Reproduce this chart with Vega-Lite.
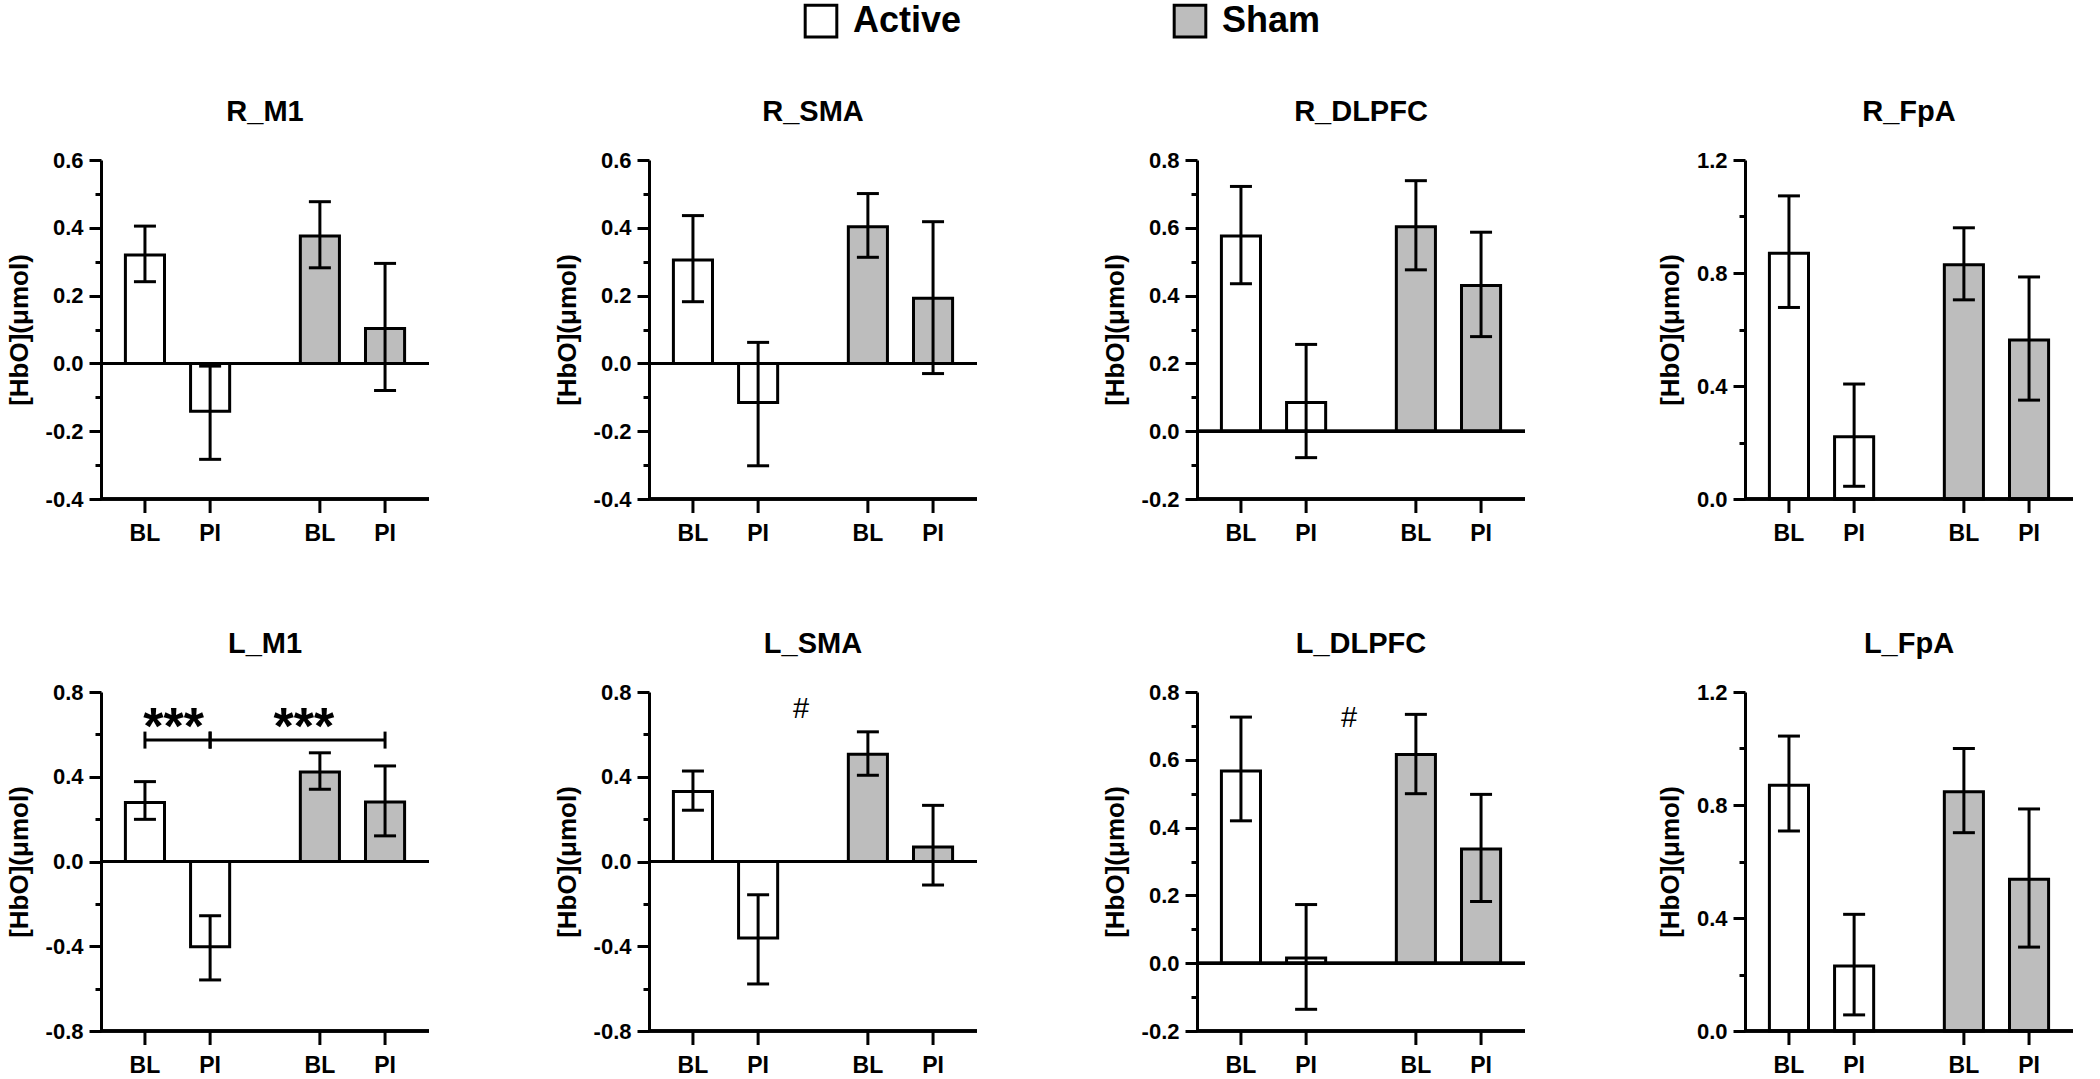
{
  "$schema": "https://vega.github.io/schema/vega-lite/v6.json",
  "padding": {"left": 6, "top": 3, "right": 5, "bottom": 0},
  "datasets": {
    "bars": [
      {"region":"R_M1","group":"Active","time":"BL","mean":0.32,"lo":0.241,"hi":0.405},
      {"region":"R_M1","group":"Active","time":"PI","mean":-0.141,"lo":-0.283,"hi":-0.008},
      {"region":"R_M1","group":"Sham","time":"BL","mean":0.376,"lo":0.282,"hi":0.477},
      {"region":"R_M1","group":"Sham","time":"PI","mean":0.103,"lo":-0.08,"hi":0.295},
      {"region":"R_SMA","group":"Active","time":"BL","mean":0.305,"lo":0.182,"hi":0.436},
      {"region":"R_SMA","group":"Active","time":"PI","mean":-0.115,"lo":-0.302,"hi":0.062},
      {"region":"R_SMA","group":"Sham","time":"BL","mean":0.403,"lo":0.313,"hi":0.501},
      {"region":"R_SMA","group":"Sham","time":"PI","mean":0.192,"lo":-0.03,"hi":0.418},
      {"region":"R_DLPFC","group":"Active","time":"BL","mean":0.576,"lo":0.435,"hi":0.722},
      {"region":"R_DLPFC","group":"Active","time":"PI","mean":0.085,"lo":-0.078,"hi":0.256},
      {"region":"R_DLPFC","group":"Sham","time":"BL","mean":0.603,"lo":0.476,"hi":0.739},
      {"region":"R_DLPFC","group":"Sham","time":"PI","mean":0.43,"lo":0.279,"hi":0.587},
      {"region":"R_FpA","group":"Active","time":"BL","mean":0.87,"lo":0.678,"hi":1.073},
      {"region":"R_FpA","group":"Active","time":"PI","mean":0.22,"lo":0.045,"hi":0.407},
      {"region":"R_FpA","group":"Sham","time":"BL","mean":0.829,"lo":0.705,"hi":0.96},
      {"region":"R_FpA","group":"Sham","time":"PI","mean":0.563,"lo":0.35,"hi":0.786},
      {"region":"L_M1","group":"Active","time":"BL","mean":0.278,"lo":0.199,"hi":0.377},
      {"region":"L_M1","group":"Active","time":"PI","mean":-0.402,"lo":-0.559,"hi":-0.256},
      {"region":"L_M1","group":"Sham","time":"BL","mean":0.422,"lo":0.341,"hi":0.513},
      {"region":"L_M1","group":"Sham","time":"PI","mean":0.281,"lo":0.121,"hi":0.451},
      {"region":"L_SMA","group":"Active","time":"BL","mean":0.33,"lo":0.242,"hi":0.427},
      {"region":"L_SMA","group":"Active","time":"PI","mean":-0.361,"lo":-0.578,"hi":-0.157},
      {"region":"L_SMA","group":"Sham","time":"BL","mean":0.506,"lo":0.407,"hi":0.612},
      {"region":"L_SMA","group":"Sham","time":"PI","mean":0.069,"lo":-0.111,"hi":0.265},
      {"region":"L_DLPFC","group":"Active","time":"BL","mean":0.567,"lo":0.42,"hi":0.726},
      {"region":"L_DLPFC","group":"Active","time":"PI","mean":0.015,"lo":-0.136,"hi":0.173},
      {"region":"L_DLPFC","group":"Sham","time":"BL","mean":0.616,"lo":0.5,"hi":0.734},
      {"region":"L_DLPFC","group":"Sham","time":"PI","mean":0.337,"lo":0.182,"hi":0.498},
      {"region":"L_FpA","group":"Active","time":"BL","mean":0.87,"lo":0.708,"hi":1.044},
      {"region":"L_FpA","group":"Active","time":"PI","mean":0.23,"lo":0.057,"hi":0.413},
      {"region":"L_FpA","group":"Sham","time":"BL","mean":0.847,"lo":0.702,"hi":1.0},
      {"region":"L_FpA","group":"Sham","time":"PI","mean":0.537,"lo":0.297,"hi":0.786}
    ],
    "ann": [
      {"region":"L_M1","kind":"bracket","id":1,"group":"Active","time":"BL","y":0.573},
      {"region":"L_M1","kind":"bracket","id":1,"group":"Active","time":"PI","y":0.573},
      {"region":"L_M1","kind":"bracket","id":2,"group":"Active","time":"PI","y":0.573},
      {"region":"L_M1","kind":"bracket","id":2,"group":"Sham","time":"PI","y":0.573},
      {"region":"L_M1","kind":"star1","group":"Active","y":0.686,"label":"***"},
      {"region":"L_M1","kind":"star2","group":"Sham","time":"BL","y":0.686,"label":"***"},
      {"region":"L_SMA","kind":"hash","group":"Active","time":"PI","y":0.718,"label":"#"},
      {"region":"L_DLPFC","kind":"hash","group":"Active","time":"PI","y":0.724,"label":"#"}
    ]
  },
  "columns": 4,
  "spacing": {"row": 193, "column": 220},
  "bounds": "flush",
  "concat": [
    {
      "title": "R_M1", "width": 328, "height": 339,
      "data": {"name": "bars"},
      "transform": [{"filter": "datum.region === 'R_M1'"}],
      "resolve": {"axis": {"y": "independent"}},
      "layer": [
        {"mark": {"type": "bar", "stroke": "black", "strokeWidth": 3},
         "encoding": {
           "x": {"field": "group", "type": "nominal", "scale": {"domain": ["Active","Sham"], "paddingInner": 0.255, "paddingOuter": 0.065}, "axis": null},
           "xOffset": {"field": "time", "type": "nominal", "scale": {"domain": ["BL","PI"], "paddingInner": 0.4, "paddingOuter": 0.2}},
           "y": {"field": "mean", "type": "quantitative", "scale": {"domain": [-0.4, 0.6], "nice": false, "zero": false}, "axis": {"title": "[HbO](μmol)", "values": [-0.4,-0.2,0,0.2,0.4,0.6], "labelExpr": "replace(format(datum.value, '.1f'), '−', '-')"}},
           "fill": {"field": "group", "type": "nominal", "scale": {"domain": ["Active","Sham"], "range": ["#ffffff","#bdbdbd"]}, "legend": {"orient": "none", "legendX": 702, "legendY": -157, "direction": "horizontal", "title": null}}
         }},
        {"mark": {"type": "rule", "color": "black", "strokeWidth": 3},
         "encoding": {"x": {"field": "group", "type": "nominal", "axis": null}, "xOffset": {"field": "time", "type": "nominal"},
           "y": {"field": "lo", "type": "quantitative", "axis": {"orient": "left", "title": null, "labels": false, "domain": false, "tickSize": 6, "values": [-0.3,-0.1,0.1,0.3,0.5]}}, "y2": {"field": "hi"}}},
        {"mark": {"type": "tick", "orient": "horizontal", "color": "black", "size": 22, "thickness": 3, "opacity": 1},
         "encoding": {"x": {"field": "group", "type": "nominal", "axis": null}, "xOffset": {"field": "time", "type": "nominal"}, "y": {"field": "lo", "type": "quantitative", "axis": null}}},
        {"mark": {"type": "tick", "orient": "horizontal", "color": "black", "size": 22, "thickness": 3, "opacity": 1},
         "encoding": {"x": {"field": "group", "type": "nominal", "axis": null}, "xOffset": {"field": "time", "type": "nominal"}, "y": {"field": "hi", "type": "quantitative", "axis": null}}},
        {"mark": {"type": "rule", "color": "black", "strokeWidth": 3},
         "encoding": {"y": {"datum": 0, "type": "quantitative", "axis": null}}},
        {"mark": {"type": "rule", "color": "black", "strokeWidth": 3},
         "encoding": {"y": {"datum": -0.4, "type": "quantitative", "axis": null}}},
        {"mark": {"type": "tick", "orient": "vertical", "color": "black", "size": 14, "thickness": 3, "opacity": 1, "yOffset": 7},
         "encoding": {"x": {"field": "group", "type": "nominal", "axis": null}, "xOffset": {"field": "time", "type": "nominal"}, "y": {"datum": -0.4, "type": "quantitative", "axis": null}}},
        {"mark": {"type": "text", "font": "Liberation Sans", "fontWeight": "bold", "fontSize": 23, "color": "black", "baseline": "alphabetic", "dy": 42},
         "encoding": {"x": {"field": "group", "type": "nominal", "axis": null}, "xOffset": {"field": "time", "type": "nominal"}, "y": {"datum": -0.4, "type": "quantitative", "axis": null}, "text": {"field": "time"}}}
      ]
    },
    {
      "title": "R_SMA", "width": 328, "height": 339,
      "data": {"name": "bars"},
      "transform": [{"filter": "datum.region === 'R_SMA'"}],
      "resolve": {"axis": {"y": "independent"}},
      "layer": [
        {"mark": {"type": "bar", "stroke": "black", "strokeWidth": 3},
         "encoding": {
           "x": {"field": "group", "type": "nominal", "scale": {"domain": ["Active","Sham"], "paddingInner": 0.255, "paddingOuter": 0.065}, "axis": null},
           "xOffset": {"field": "time", "type": "nominal", "scale": {"domain": ["BL","PI"], "paddingInner": 0.4, "paddingOuter": 0.2}},
           "y": {"field": "mean", "type": "quantitative", "scale": {"domain": [-0.4, 0.6], "nice": false, "zero": false}, "axis": {"title": "[HbO](μmol)", "values": [-0.4,-0.2,0,0.2,0.4,0.6], "labelExpr": "replace(format(datum.value, '.1f'), '−', '-')"}},
           "fill": {"field": "group", "type": "nominal", "scale": {"domain": ["Active","Sham"], "range": ["#ffffff","#bdbdbd"]}, "legend": {"orient": "none", "legendX": 702, "legendY": -157, "direction": "horizontal", "title": null}}
         }},
        {"mark": {"type": "rule", "color": "black", "strokeWidth": 3},
         "encoding": {"x": {"field": "group", "type": "nominal", "axis": null}, "xOffset": {"field": "time", "type": "nominal"},
           "y": {"field": "lo", "type": "quantitative", "axis": {"orient": "left", "title": null, "labels": false, "domain": false, "tickSize": 6, "values": [-0.3,-0.1,0.1,0.3,0.5]}}, "y2": {"field": "hi"}}},
        {"mark": {"type": "tick", "orient": "horizontal", "color": "black", "size": 22, "thickness": 3, "opacity": 1},
         "encoding": {"x": {"field": "group", "type": "nominal", "axis": null}, "xOffset": {"field": "time", "type": "nominal"}, "y": {"field": "lo", "type": "quantitative", "axis": null}}},
        {"mark": {"type": "tick", "orient": "horizontal", "color": "black", "size": 22, "thickness": 3, "opacity": 1},
         "encoding": {"x": {"field": "group", "type": "nominal", "axis": null}, "xOffset": {"field": "time", "type": "nominal"}, "y": {"field": "hi", "type": "quantitative", "axis": null}}},
        {"mark": {"type": "rule", "color": "black", "strokeWidth": 3},
         "encoding": {"y": {"datum": 0, "type": "quantitative", "axis": null}}},
        {"mark": {"type": "rule", "color": "black", "strokeWidth": 3},
         "encoding": {"y": {"datum": -0.4, "type": "quantitative", "axis": null}}},
        {"mark": {"type": "tick", "orient": "vertical", "color": "black", "size": 14, "thickness": 3, "opacity": 1, "yOffset": 7},
         "encoding": {"x": {"field": "group", "type": "nominal", "axis": null}, "xOffset": {"field": "time", "type": "nominal"}, "y": {"datum": -0.4, "type": "quantitative", "axis": null}}},
        {"mark": {"type": "text", "font": "Liberation Sans", "fontWeight": "bold", "fontSize": 23, "color": "black", "baseline": "alphabetic", "dy": 42},
         "encoding": {"x": {"field": "group", "type": "nominal", "axis": null}, "xOffset": {"field": "time", "type": "nominal"}, "y": {"datum": -0.4, "type": "quantitative", "axis": null}, "text": {"field": "time"}}}
      ]
    },
    {
      "title": "R_DLPFC", "width": 328, "height": 339,
      "data": {"name": "bars"},
      "transform": [{"filter": "datum.region === 'R_DLPFC'"}],
      "resolve": {"axis": {"y": "independent"}},
      "layer": [
        {"mark": {"type": "bar", "stroke": "black", "strokeWidth": 3},
         "encoding": {
           "x": {"field": "group", "type": "nominal", "scale": {"domain": ["Active","Sham"], "paddingInner": 0.255, "paddingOuter": 0.065}, "axis": null},
           "xOffset": {"field": "time", "type": "nominal", "scale": {"domain": ["BL","PI"], "paddingInner": 0.4, "paddingOuter": 0.2}},
           "y": {"field": "mean", "type": "quantitative", "scale": {"domain": [-0.2, 0.8], "nice": false, "zero": false}, "axis": {"title": "[HbO](μmol)", "values": [-0.2,0,0.2,0.4,0.6,0.8], "labelExpr": "replace(format(datum.value, '.1f'), '−', '-')"}},
           "fill": {"field": "group", "type": "nominal", "scale": {"domain": ["Active","Sham"], "range": ["#ffffff","#bdbdbd"]}, "legend": {"orient": "none", "legendX": 702, "legendY": -157, "direction": "horizontal", "title": null}}
         }},
        {"mark": {"type": "rule", "color": "black", "strokeWidth": 3},
         "encoding": {"x": {"field": "group", "type": "nominal", "axis": null}, "xOffset": {"field": "time", "type": "nominal"},
           "y": {"field": "lo", "type": "quantitative", "axis": {"orient": "left", "title": null, "labels": false, "domain": false, "tickSize": 6, "values": [-0.1,0.1,0.3,0.5,0.7]}}, "y2": {"field": "hi"}}},
        {"mark": {"type": "tick", "orient": "horizontal", "color": "black", "size": 22, "thickness": 3, "opacity": 1},
         "encoding": {"x": {"field": "group", "type": "nominal", "axis": null}, "xOffset": {"field": "time", "type": "nominal"}, "y": {"field": "lo", "type": "quantitative", "axis": null}}},
        {"mark": {"type": "tick", "orient": "horizontal", "color": "black", "size": 22, "thickness": 3, "opacity": 1},
         "encoding": {"x": {"field": "group", "type": "nominal", "axis": null}, "xOffset": {"field": "time", "type": "nominal"}, "y": {"field": "hi", "type": "quantitative", "axis": null}}},
        {"mark": {"type": "rule", "color": "black", "strokeWidth": 3},
         "encoding": {"y": {"datum": 0, "type": "quantitative", "axis": null}}},
        {"mark": {"type": "rule", "color": "black", "strokeWidth": 3},
         "encoding": {"y": {"datum": -0.2, "type": "quantitative", "axis": null}}},
        {"mark": {"type": "tick", "orient": "vertical", "color": "black", "size": 14, "thickness": 3, "opacity": 1, "yOffset": 7},
         "encoding": {"x": {"field": "group", "type": "nominal", "axis": null}, "xOffset": {"field": "time", "type": "nominal"}, "y": {"datum": -0.2, "type": "quantitative", "axis": null}}},
        {"mark": {"type": "text", "font": "Liberation Sans", "fontWeight": "bold", "fontSize": 23, "color": "black", "baseline": "alphabetic", "dy": 42},
         "encoding": {"x": {"field": "group", "type": "nominal", "axis": null}, "xOffset": {"field": "time", "type": "nominal"}, "y": {"datum": -0.2, "type": "quantitative", "axis": null}, "text": {"field": "time"}}}
      ]
    },
    {
      "title": "R_FpA", "width": 328, "height": 339,
      "data": {"name": "bars"},
      "transform": [{"filter": "datum.region === 'R_FpA'"}],
      "resolve": {"axis": {"y": "independent"}},
      "layer": [
        {"mark": {"type": "bar", "stroke": "black", "strokeWidth": 3},
         "encoding": {
           "x": {"field": "group", "type": "nominal", "scale": {"domain": ["Active","Sham"], "paddingInner": 0.255, "paddingOuter": 0.065}, "axis": null},
           "xOffset": {"field": "time", "type": "nominal", "scale": {"domain": ["BL","PI"], "paddingInner": 0.4, "paddingOuter": 0.2}},
           "y": {"field": "mean", "type": "quantitative", "scale": {"domain": [0, 1.2], "nice": false, "zero": false}, "axis": {"title": "[HbO](μmol)", "values": [0,0.4,0.8,1.2], "labelExpr": "replace(format(datum.value, '.1f'), '−', '-')"}},
           "fill": {"field": "group", "type": "nominal", "scale": {"domain": ["Active","Sham"], "range": ["#ffffff","#bdbdbd"]}, "legend": {"orient": "none", "legendX": 702, "legendY": -157, "direction": "horizontal", "title": null}}
         }},
        {"mark": {"type": "rule", "color": "black", "strokeWidth": 3},
         "encoding": {"x": {"field": "group", "type": "nominal", "axis": null}, "xOffset": {"field": "time", "type": "nominal"},
           "y": {"field": "lo", "type": "quantitative", "axis": {"orient": "left", "title": null, "labels": false, "domain": false, "tickSize": 6, "values": [0.2,0.6,1.0]}}, "y2": {"field": "hi"}}},
        {"mark": {"type": "tick", "orient": "horizontal", "color": "black", "size": 22, "thickness": 3, "opacity": 1},
         "encoding": {"x": {"field": "group", "type": "nominal", "axis": null}, "xOffset": {"field": "time", "type": "nominal"}, "y": {"field": "lo", "type": "quantitative", "axis": null}}},
        {"mark": {"type": "tick", "orient": "horizontal", "color": "black", "size": 22, "thickness": 3, "opacity": 1},
         "encoding": {"x": {"field": "group", "type": "nominal", "axis": null}, "xOffset": {"field": "time", "type": "nominal"}, "y": {"field": "hi", "type": "quantitative", "axis": null}}},
        {"mark": {"type": "rule", "color": "black", "strokeWidth": 3},
         "encoding": {"y": {"datum": 0, "type": "quantitative", "axis": null}}},
        {"mark": {"type": "tick", "orient": "vertical", "color": "black", "size": 14, "thickness": 3, "opacity": 1, "yOffset": 7},
         "encoding": {"x": {"field": "group", "type": "nominal", "axis": null}, "xOffset": {"field": "time", "type": "nominal"}, "y": {"datum": 0, "type": "quantitative", "axis": null}}},
        {"mark": {"type": "text", "font": "Liberation Sans", "fontWeight": "bold", "fontSize": 23, "color": "black", "baseline": "alphabetic", "dy": 42},
         "encoding": {"x": {"field": "group", "type": "nominal", "axis": null}, "xOffset": {"field": "time", "type": "nominal"}, "y": {"datum": 0, "type": "quantitative", "axis": null}, "text": {"field": "time"}}}
      ]
    },
    {
      "title": "L_M1", "width": 328, "height": 339,
      "data": {"name": "bars"},
      "transform": [{"filter": "datum.region === 'L_M1'"}],
      "resolve": {"axis": {"y": "independent"}},
      "layer": [
        {"mark": {"type": "bar", "stroke": "black", "strokeWidth": 3},
         "encoding": {
           "x": {"field": "group", "type": "nominal", "scale": {"domain": ["Active","Sham"], "paddingInner": 0.255, "paddingOuter": 0.065}, "axis": null},
           "xOffset": {"field": "time", "type": "nominal", "scale": {"domain": ["BL","PI"], "paddingInner": 0.4, "paddingOuter": 0.2}},
           "y": {"field": "mean", "type": "quantitative", "scale": {"domain": [-0.8, 0.8], "nice": false, "zero": false}, "axis": {"title": "[HbO](μmol)", "values": [-0.8,-0.4,0,0.4,0.8], "labelExpr": "replace(format(datum.value, '.1f'), '−', '-')"}},
           "fill": {"field": "group", "type": "nominal", "scale": {"domain": ["Active","Sham"], "range": ["#ffffff","#bdbdbd"]}, "legend": {"orient": "none", "legendX": 702, "legendY": -157, "direction": "horizontal", "title": null}}
         }},
        {"mark": {"type": "rule", "color": "black", "strokeWidth": 3},
         "encoding": {"x": {"field": "group", "type": "nominal", "axis": null}, "xOffset": {"field": "time", "type": "nominal"},
           "y": {"field": "lo", "type": "quantitative", "axis": {"orient": "left", "title": null, "labels": false, "domain": false, "tickSize": 6, "values": [-0.6,-0.2,0.2,0.6]}}, "y2": {"field": "hi"}}},
        {"mark": {"type": "tick", "orient": "horizontal", "color": "black", "size": 22, "thickness": 3, "opacity": 1},
         "encoding": {"x": {"field": "group", "type": "nominal", "axis": null}, "xOffset": {"field": "time", "type": "nominal"}, "y": {"field": "lo", "type": "quantitative", "axis": null}}},
        {"mark": {"type": "tick", "orient": "horizontal", "color": "black", "size": 22, "thickness": 3, "opacity": 1},
         "encoding": {"x": {"field": "group", "type": "nominal", "axis": null}, "xOffset": {"field": "time", "type": "nominal"}, "y": {"field": "hi", "type": "quantitative", "axis": null}}},
        {"mark": {"type": "rule", "color": "black", "strokeWidth": 3},
         "encoding": {"y": {"datum": 0, "type": "quantitative", "axis": null}}},
        {"mark": {"type": "rule", "color": "black", "strokeWidth": 3},
         "encoding": {"y": {"datum": -0.8, "type": "quantitative", "axis": null}}},
        {"mark": {"type": "tick", "orient": "vertical", "color": "black", "size": 14, "thickness": 3, "opacity": 1, "yOffset": 7},
         "encoding": {"x": {"field": "group", "type": "nominal", "axis": null}, "xOffset": {"field": "time", "type": "nominal"}, "y": {"datum": -0.8, "type": "quantitative", "axis": null}}},
        {"mark": {"type": "text", "font": "Liberation Sans", "fontWeight": "bold", "fontSize": 23, "color": "black", "baseline": "alphabetic", "dy": 42},
         "encoding": {"x": {"field": "group", "type": "nominal", "axis": null}, "xOffset": {"field": "time", "type": "nominal"}, "y": {"datum": -0.8, "type": "quantitative", "axis": null}, "text": {"field": "time"}}},
        {"data": {"name": "ann"}, "transform": [{"filter": "datum.region === 'L_M1' && datum.kind === 'bracket'"}],
         "mark": {"type": "line", "color": "black", "strokeWidth": 3},
         "encoding": {"x": {"field": "group", "type": "nominal", "axis": null}, "xOffset": {"field": "time", "type": "nominal"}, "y": {"field": "y", "type": "quantitative", "axis": null}, "detail": {"field": "id"}}},
        {"data": {"name": "ann"}, "transform": [{"filter": "datum.region === 'L_M1' && datum.kind === 'bracket'"}],
         "mark": {"type": "tick", "orient": "vertical", "color": "black", "size": 17, "thickness": 3, "opacity": 1},
         "encoding": {"x": {"field": "group", "type": "nominal", "axis": null}, "xOffset": {"field": "time", "type": "nominal"}, "y": {"field": "y", "type": "quantitative", "axis": null}}},
        {"data": {"name": "ann"}, "transform": [{"filter": "datum.region === 'L_M1' && datum.kind === 'star1'"}],
         "mark": {"type": "text", "font": "Liberation Sans", "fontWeight": "bold", "fontSize": 52, "color": "black", "baseline": "middle", "dy": 12, "dx": -4},
         "encoding": {"x": {"field": "group", "type": "nominal", "axis": null}, "y": {"field": "y", "type": "quantitative", "axis": null}, "text": {"field": "label"}}},
        {"data": {"name": "ann"}, "transform": [{"filter": "datum.region === 'L_M1' && datum.kind === 'star2'"}],
         "mark": {"type": "text", "font": "Liberation Sans", "fontWeight": "bold", "fontSize": 52, "color": "black", "baseline": "middle", "dy": 12, "dx": -16},
         "encoding": {"x": {"field": "group", "type": "nominal", "axis": null}, "xOffset": {"field": "time", "type": "nominal"}, "y": {"field": "y", "type": "quantitative", "axis": null}, "text": {"field": "label"}}}
      ]
    },
    {
      "title": "L_SMA", "width": 328, "height": 339,
      "data": {"name": "bars"},
      "transform": [{"filter": "datum.region === 'L_SMA'"}],
      "resolve": {"axis": {"y": "independent"}},
      "layer": [
        {"mark": {"type": "bar", "stroke": "black", "strokeWidth": 3},
         "encoding": {
           "x": {"field": "group", "type": "nominal", "scale": {"domain": ["Active","Sham"], "paddingInner": 0.255, "paddingOuter": 0.065}, "axis": null},
           "xOffset": {"field": "time", "type": "nominal", "scale": {"domain": ["BL","PI"], "paddingInner": 0.4, "paddingOuter": 0.2}},
           "y": {"field": "mean", "type": "quantitative", "scale": {"domain": [-0.8, 0.8], "nice": false, "zero": false}, "axis": {"title": "[HbO](μmol)", "values": [-0.8,-0.4,0,0.4,0.8], "labelExpr": "replace(format(datum.value, '.1f'), '−', '-')"}},
           "fill": {"field": "group", "type": "nominal", "scale": {"domain": ["Active","Sham"], "range": ["#ffffff","#bdbdbd"]}, "legend": {"orient": "none", "legendX": 702, "legendY": -157, "direction": "horizontal", "title": null}}
         }},
        {"mark": {"type": "rule", "color": "black", "strokeWidth": 3},
         "encoding": {"x": {"field": "group", "type": "nominal", "axis": null}, "xOffset": {"field": "time", "type": "nominal"},
           "y": {"field": "lo", "type": "quantitative", "axis": {"orient": "left", "title": null, "labels": false, "domain": false, "tickSize": 6, "values": [-0.6,-0.2,0.2,0.6]}}, "y2": {"field": "hi"}}},
        {"mark": {"type": "tick", "orient": "horizontal", "color": "black", "size": 22, "thickness": 3, "opacity": 1},
         "encoding": {"x": {"field": "group", "type": "nominal", "axis": null}, "xOffset": {"field": "time", "type": "nominal"}, "y": {"field": "lo", "type": "quantitative", "axis": null}}},
        {"mark": {"type": "tick", "orient": "horizontal", "color": "black", "size": 22, "thickness": 3, "opacity": 1},
         "encoding": {"x": {"field": "group", "type": "nominal", "axis": null}, "xOffset": {"field": "time", "type": "nominal"}, "y": {"field": "hi", "type": "quantitative", "axis": null}}},
        {"mark": {"type": "rule", "color": "black", "strokeWidth": 3},
         "encoding": {"y": {"datum": 0, "type": "quantitative", "axis": null}}},
        {"mark": {"type": "rule", "color": "black", "strokeWidth": 3},
         "encoding": {"y": {"datum": -0.8, "type": "quantitative", "axis": null}}},
        {"mark": {"type": "tick", "orient": "vertical", "color": "black", "size": 14, "thickness": 3, "opacity": 1, "yOffset": 7},
         "encoding": {"x": {"field": "group", "type": "nominal", "axis": null}, "xOffset": {"field": "time", "type": "nominal"}, "y": {"datum": -0.8, "type": "quantitative", "axis": null}}},
        {"mark": {"type": "text", "font": "Liberation Sans", "fontWeight": "bold", "fontSize": 23, "color": "black", "baseline": "alphabetic", "dy": 42},
         "encoding": {"x": {"field": "group", "type": "nominal", "axis": null}, "xOffset": {"field": "time", "type": "nominal"}, "y": {"datum": -0.8, "type": "quantitative", "axis": null}, "text": {"field": "time"}}},
        {"data": {"name": "ann"}, "transform": [{"filter": "datum.region === 'L_SMA'"}],
         "mark": {"type": "text", "font": "Liberation Sans", "fontSize": 29, "color": "black", "baseline": "middle", "dx": 43},
         "encoding": {"x": {"field": "group", "type": "nominal", "axis": null}, "xOffset": {"field": "time", "type": "nominal"}, "y": {"field": "y", "type": "quantitative", "axis": null}, "text": {"field": "label"}}}
      ]
    },
    {
      "title": "L_DLPFC", "width": 328, "height": 339,
      "data": {"name": "bars"},
      "transform": [{"filter": "datum.region === 'L_DLPFC'"}],
      "resolve": {"axis": {"y": "independent"}},
      "layer": [
        {"mark": {"type": "bar", "stroke": "black", "strokeWidth": 3},
         "encoding": {
           "x": {"field": "group", "type": "nominal", "scale": {"domain": ["Active","Sham"], "paddingInner": 0.255, "paddingOuter": 0.065}, "axis": null},
           "xOffset": {"field": "time", "type": "nominal", "scale": {"domain": ["BL","PI"], "paddingInner": 0.4, "paddingOuter": 0.2}},
           "y": {"field": "mean", "type": "quantitative", "scale": {"domain": [-0.2, 0.8], "nice": false, "zero": false}, "axis": {"title": "[HbO](μmol)", "values": [-0.2,0,0.2,0.4,0.6,0.8], "labelExpr": "replace(format(datum.value, '.1f'), '−', '-')"}},
           "fill": {"field": "group", "type": "nominal", "scale": {"domain": ["Active","Sham"], "range": ["#ffffff","#bdbdbd"]}, "legend": {"orient": "none", "legendX": 702, "legendY": -157, "direction": "horizontal", "title": null}}
         }},
        {"mark": {"type": "rule", "color": "black", "strokeWidth": 3},
         "encoding": {"x": {"field": "group", "type": "nominal", "axis": null}, "xOffset": {"field": "time", "type": "nominal"},
           "y": {"field": "lo", "type": "quantitative", "axis": {"orient": "left", "title": null, "labels": false, "domain": false, "tickSize": 6, "values": [-0.1,0.1,0.3,0.5,0.7]}}, "y2": {"field": "hi"}}},
        {"mark": {"type": "tick", "orient": "horizontal", "color": "black", "size": 22, "thickness": 3, "opacity": 1},
         "encoding": {"x": {"field": "group", "type": "nominal", "axis": null}, "xOffset": {"field": "time", "type": "nominal"}, "y": {"field": "lo", "type": "quantitative", "axis": null}}},
        {"mark": {"type": "tick", "orient": "horizontal", "color": "black", "size": 22, "thickness": 3, "opacity": 1},
         "encoding": {"x": {"field": "group", "type": "nominal", "axis": null}, "xOffset": {"field": "time", "type": "nominal"}, "y": {"field": "hi", "type": "quantitative", "axis": null}}},
        {"mark": {"type": "rule", "color": "black", "strokeWidth": 3},
         "encoding": {"y": {"datum": 0, "type": "quantitative", "axis": null}}},
        {"mark": {"type": "rule", "color": "black", "strokeWidth": 3},
         "encoding": {"y": {"datum": -0.2, "type": "quantitative", "axis": null}}},
        {"mark": {"type": "tick", "orient": "vertical", "color": "black", "size": 14, "thickness": 3, "opacity": 1, "yOffset": 7},
         "encoding": {"x": {"field": "group", "type": "nominal", "axis": null}, "xOffset": {"field": "time", "type": "nominal"}, "y": {"datum": -0.2, "type": "quantitative", "axis": null}}},
        {"mark": {"type": "text", "font": "Liberation Sans", "fontWeight": "bold", "fontSize": 23, "color": "black", "baseline": "alphabetic", "dy": 42},
         "encoding": {"x": {"field": "group", "type": "nominal", "axis": null}, "xOffset": {"field": "time", "type": "nominal"}, "y": {"datum": -0.2, "type": "quantitative", "axis": null}, "text": {"field": "time"}}},
        {"data": {"name": "ann"}, "transform": [{"filter": "datum.region === 'L_DLPFC'"}],
         "mark": {"type": "text", "font": "Liberation Sans", "fontSize": 29, "color": "black", "baseline": "middle", "dx": 43},
         "encoding": {"x": {"field": "group", "type": "nominal", "axis": null}, "xOffset": {"field": "time", "type": "nominal"}, "y": {"field": "y", "type": "quantitative", "axis": null}, "text": {"field": "label"}}}
      ]
    },
    {
      "title": "L_FpA", "width": 328, "height": 339,
      "data": {"name": "bars"},
      "transform": [{"filter": "datum.region === 'L_FpA'"}],
      "resolve": {"axis": {"y": "independent"}},
      "layer": [
        {"mark": {"type": "bar", "stroke": "black", "strokeWidth": 3},
         "encoding": {
           "x": {"field": "group", "type": "nominal", "scale": {"domain": ["Active","Sham"], "paddingInner": 0.255, "paddingOuter": 0.065}, "axis": null},
           "xOffset": {"field": "time", "type": "nominal", "scale": {"domain": ["BL","PI"], "paddingInner": 0.4, "paddingOuter": 0.2}},
           "y": {"field": "mean", "type": "quantitative", "scale": {"domain": [0, 1.2], "nice": false, "zero": false}, "axis": {"title": "[HbO](μmol)", "values": [0,0.4,0.8,1.2], "labelExpr": "replace(format(datum.value, '.1f'), '−', '-')"}},
           "fill": {"field": "group", "type": "nominal", "scale": {"domain": ["Active","Sham"], "range": ["#ffffff","#bdbdbd"]}, "legend": {"orient": "none", "legendX": 702, "legendY": -157, "direction": "horizontal", "title": null}}
         }},
        {"mark": {"type": "rule", "color": "black", "strokeWidth": 3},
         "encoding": {"x": {"field": "group", "type": "nominal", "axis": null}, "xOffset": {"field": "time", "type": "nominal"},
           "y": {"field": "lo", "type": "quantitative", "axis": {"orient": "left", "title": null, "labels": false, "domain": false, "tickSize": 6, "values": [0.2,0.6,1.0]}}, "y2": {"field": "hi"}}},
        {"mark": {"type": "tick", "orient": "horizontal", "color": "black", "size": 22, "thickness": 3, "opacity": 1},
         "encoding": {"x": {"field": "group", "type": "nominal", "axis": null}, "xOffset": {"field": "time", "type": "nominal"}, "y": {"field": "lo", "type": "quantitative", "axis": null}}},
        {"mark": {"type": "tick", "orient": "horizontal", "color": "black", "size": 22, "thickness": 3, "opacity": 1},
         "encoding": {"x": {"field": "group", "type": "nominal", "axis": null}, "xOffset": {"field": "time", "type": "nominal"}, "y": {"field": "hi", "type": "quantitative", "axis": null}}},
        {"mark": {"type": "rule", "color": "black", "strokeWidth": 3},
         "encoding": {"y": {"datum": 0, "type": "quantitative", "axis": null}}},
        {"mark": {"type": "tick", "orient": "vertical", "color": "black", "size": 14, "thickness": 3, "opacity": 1, "yOffset": 7},
         "encoding": {"x": {"field": "group", "type": "nominal", "axis": null}, "xOffset": {"field": "time", "type": "nominal"}, "y": {"datum": 0, "type": "quantitative", "axis": null}}},
        {"mark": {"type": "text", "font": "Liberation Sans", "fontWeight": "bold", "fontSize": 23, "color": "black", "baseline": "alphabetic", "dy": 42},
         "encoding": {"x": {"field": "group", "type": "nominal", "axis": null}, "xOffset": {"field": "time", "type": "nominal"}, "y": {"datum": 0, "type": "quantitative", "axis": null}, "text": {"field": "time"}}}
      ]
    }
  ],
  "config": {
    "view": {"stroke": null},
    "font": "Liberation Sans",
    "axis": {"labelFont": "Liberation Sans", "labelFontWeight": "bold", "labelFontSize": 22, "labelColor": "black", "titleFont": "Liberation Sans", "titleFontWeight": "bold", "titleFontSize": 26, "titleColor": "black", "domainColor": "black", "domainWidth": 3, "tickColor": "black", "tickWidth": 3, "grid": false},
    "axisY": {"tickSize": 12, "labelPadding": 6, "titlePadding": 13},
    "title": {"font": "Liberation Sans", "fontSize": 29, "fontWeight": "bold", "color": "black", "frame": "group", "anchor": "middle", "offset": 22},
    "legend": {"symbolType": "square", "symbolSize": 1000, "symbolStrokeColor": "black", "symbolStrokeWidth": 3, "labelFont": "Liberation Sans", "labelFontWeight": "bold", "labelFontSize": 36, "labelColor": "black", "labelOffset": 14, "columnPadding": 206, "padding": 0}
  }
}
